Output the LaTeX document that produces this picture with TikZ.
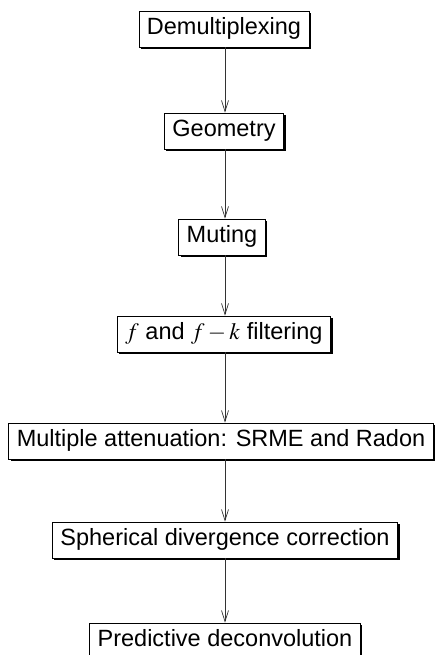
\documentclass[tikz,border=0pt]{standalone}
\usepackage{mathptmx}
\usepackage{fontspec}
\setmainfont{Liberation Sans}
\usepackage{tikz}
\usetikzlibrary{arrows.meta,shadows}

\tikzset{
  stage/.style={draw=black, fill=white, line width=0.6pt,
    font=\fontsize{23.5}{28}\selectfont, text height=16.8pt, text depth=4.9pt,
    inner xsep=8pt, inner ysep=7.2pt,
    drop shadow={shadow xshift=2pt, shadow yshift=-2pt, fill=black, opacity=1}},
  flow/.style={draw=black!80, line width=0.7pt, -{Straight Barb[length=11pt,width=7pt]}}
}

\begin{document}
\begin{tikzpicture}[x=1pt,y=-1pt]
\useasboundingbox (0,0) rectangle (441,655);
\node[stage] (demux) at (224,29) {Demultiplexing};
\node[stage] (geom) at (224,131) {Geometry};
\node[stage] (mute) at (222,237) {Muting};
\node[stage] (filt) at (224,334) {$f$ and $f-k$ filtering};
\node[stage] (mult) at (221,441) {Multiple attenuation: SRME and Radon};
\node[stage] (sph) at (225,540) {Spherical divergence correction};
\node[stage] (decon) at (225,641) {Predictive deconvolution};
\draw[flow] (demux.south -| decon) -- (geom.north -| decon);
\draw[flow] (geom.south -| decon) -- (mute.north -| decon);
\draw[flow] (mute.south -| decon) -- (filt.north -| decon);
\draw[flow] (filt.south -| decon) -- (mult.north -| decon);
\draw[flow] (mult.south -| decon) -- (sph.north -| decon);
\draw[flow] (sph) -- (decon);
\end{tikzpicture}
\end{document}
